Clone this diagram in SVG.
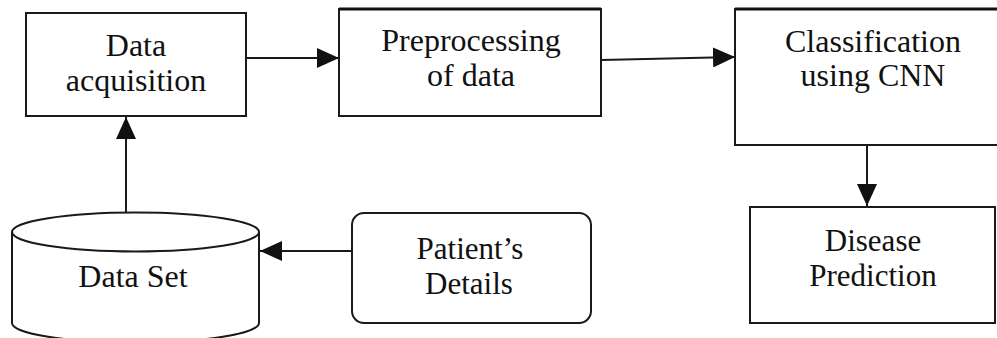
<svg xmlns="http://www.w3.org/2000/svg" width="997" height="338" viewBox="0 0 997 338">
<defs>
<style>
.box{fill:#fff;stroke:#1a1a1a;stroke-width:2}
.t{font-family:'Liberation Serif','Times New Roman',serif;font-size:31px;fill:#111;text-anchor:middle}
.c{stroke:#1a1a1a;stroke-width:2;fill:none}
</style>
<marker id="ah" markerWidth="22" markerHeight="20" refX="22" refY="10" orient="auto" markerUnits="userSpaceOnUse">
<path d="M0,0 L22,10 L0,20 Z" fill="#111"/>
</marker>
</defs>
<rect width="997" height="338" fill="#fff"/>
<g id="connectors">
<line class="c" x1="247" y1="58" x2="339" y2="58" marker-end="url(#ah)"/>
<line class="c" x1="601" y1="60" x2="735" y2="57" marker-end="url(#ah)"/>
<line class="c" x1="867" y1="146" x2="867" y2="206" marker-end="url(#ah)"/>
<line class="c" x1="126" y1="213" x2="126" y2="117" marker-end="url(#ah)"/>
<line class="c" x1="352" y1="251" x2="260" y2="251" marker-end="url(#ah)"/>
</g>
<g id="data-acquisition">
<rect class="box" x="26" y="13" width="220" height="103"/>
<text class="t" x="136" y="56" style="font-size:32px">Data</text>
<text class="t" x="136" y="91" style="font-size:32px">acquisition</text>
</g>
<g id="preprocessing">
<rect class="box" x="339" y="9" width="262" height="107"/>
<line x1="339" y1="9" x2="601" y2="9" stroke="#111" stroke-width="3"/>
<text class="t" x="471" y="51" style="font-size:32px">Preprocessing</text>
<text class="t" x="471" y="86" style="font-size:32px">of data</text>
</g>
<g id="classification">
<rect class="box" x="735" y="9" width="264" height="136"/>
<line x1="735" y1="9" x2="997" y2="9" stroke="#111" stroke-width="3"/>
<text class="t" x="873" y="52" style="font-size:32px">Classification</text>
<text class="t" x="873" y="86" style="font-size:32px">using CNN</text>
</g>
<g id="disease-prediction">
<rect class="box" x="750" y="207" width="245" height="116"/>
<text class="t" x="873" y="251">Disease</text>
<text class="t" x="873" y="286">Prediction</text>
</g>
<g id="data-set">
<path class="box" d="M12,232 L12,323 A123.5,19.5 0 0 0 259,323 L259,232"/>
<ellipse class="box" cx="135.5" cy="232" rx="123.5" ry="19.5"/>
<text class="t" x="133" y="287" style="font-size:32px">Data Set</text>
</g>
<g id="patients-details">
<rect class="box" x="352" y="213" width="239" height="110" rx="12" ry="12"/>
<text class="t" x="470" y="259">Patient’s</text>
<text class="t" x="469" y="294">Details</text>
</g>
</svg>
